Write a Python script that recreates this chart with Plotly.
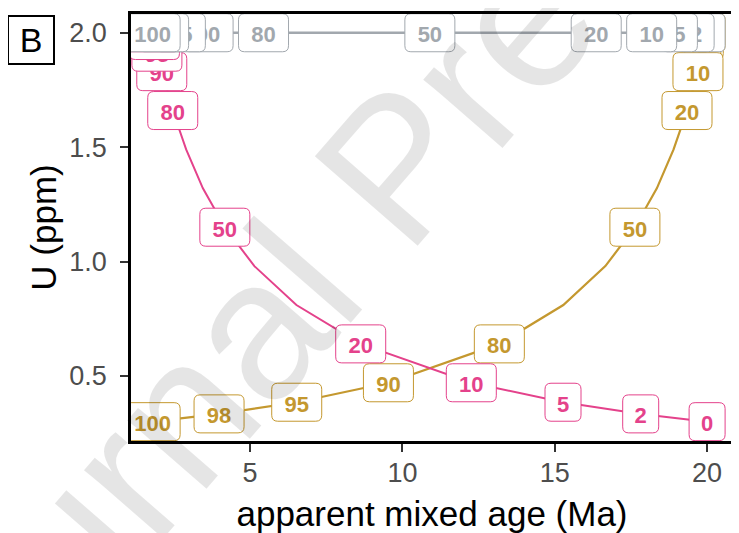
import plotly.graph_objects as go

# percent of the young end member in each mixture
fractions = [0, 2, 5, 10, 20, 30, 40, 50, 60, 70, 80, 90, 95, 98, 100]
labelled = [0, 2, 5, 10, 20, 50, 80, 90, 95, 98, 100]

# young grain rich in U, old grain poor in U
pink_age = [20.0, 17.82, 15.27, 12.26, 8.63, 6.52, 5.14, 4.17, 3.45, 2.90, 2.46, 2.10, 1.94, 1.86, 1.80]
pink_u = [0.30, 0.334, 0.385, 0.47, 0.64, 0.81, 0.98, 1.15, 1.32, 1.49, 1.66, 1.83, 1.915, 1.966, 2.0]

# young grain poor in U, old grain rich in U
gold_age = [20.0, 19.94, 19.86, 19.70, 19.34, 18.90, 18.35, 17.63, 16.66, 15.28, 13.18, 9.54, 6.53, 3.98, 1.80]
gold_u = [2.0, 1.966, 1.915, 1.83, 1.66, 1.49, 1.32, 1.15, 0.98, 0.81, 0.64, 0.47, 0.385, 0.334, 0.30]

# same U in both
gray_age = [20.0, 19.64, 19.09, 18.18, 16.36, 14.54, 12.72, 10.90, 9.08, 7.26, 5.44, 3.62, 2.71, 2.16, 1.80]
gray_u = [2.0, 2.0, 2.0, 2.0, 2.0, 2.0, 2.0, 2.0, 2.0, 2.0, 2.0, 2.0, 2.0, 2.0, 2.0]

x_ticks = [5, 10, 15, 20]
y_ticks = [0.5, 1.0, 1.5, 2.0]

PINK = '#E4428B'
GOLD = '#C4982F'
GRAY = '#A2A8AE'

series = [
    (gold_age, gold_u, GOLD, 2.2),
    (pink_age, pink_u, PINK, 2.0),
    (gray_age, gray_u, GRAY, 2.6),
]


def rounded_box(w, h, r):
    # rounded rectangle around (0, 0), in pixels
    return ('M %g,%g L %g,%g Q %g,%g %g,%g L %g,%g Q %g,%g %g,%g '
            'L %g,%g Q %g,%g %g,%g L %g,%g Q %g,%g %g,%g Z' % (
                -w + r, -h, w - r, -h, w, -h, w, -h + r,
                w, h - r, w, h, w - r, h,
                -w + r, h, -w, h, -w, h - r,
                -w, -h + r, -w, -h, -w + r, -h))


fig = go.Figure()
half_w = {1: 18, 2: 25, 3: 27.5}
for ages, us, col, lw in series:
    fig.add_trace(go.Scatter(x=ages, y=us, mode='lines', line=dict(color=col, width=lw),
                             hoverinfo='skip', showlegend=False))
    for f, a, u in zip(fractions, ages, us):
        if f not in labelled:
            continue
        txt = str(f)
        fig.add_shape(
            type='path', xref='x', yref='y', xsizemode='pixel', ysizemode='pixel',
            xanchor=a, yanchor=u, path=rounded_box(half_w[len(txt)], 19, 6),
            fillcolor='white', line=dict(color=col, width=1), layer='above',
            label=dict(text=txt, textposition='middle center',
                       font=dict(family='Liberation Sans, Arial', size=22, color=col, weight='bold')),
        )

annotations = [
    dict(text='Journal Pre-proof', xref='paper', yref='paper', x=0.440, y=0.642,
         xanchor='center', yanchor='middle', showarrow=False, textangle=-49,
         font=dict(family='Liberation Sans, Arial', size=198, color='rgba(0,0,0,0.1)')),
    # panel tag
    dict(text='B', xref='paper', yref='paper', x=-0.166, y=0.940, xanchor='center', yanchor='middle',
         showarrow=False, font=dict(family='Liberation Sans, Arial', size=34, color='black'),
         bordercolor='black', borderwidth=2, borderpad=5, width=34, height=36),
]

# the page body adds an 8px margin, so the figure is drawn 8px smaller
fig.update_layout(
    width=731, height=525,
    margin=dict(l=123, r=6, t=3, b=89),
    plot_bgcolor='white', paper_bgcolor='white',
    font=dict(family='Liberation Sans, Arial', color='black'),
    annotations=annotations,
)
fig.update_xaxes(
    range=[1.09, 20.85], tickvals=x_ticks, ticks='outside', ticklen=8, tickwidth=2,
    tickcolor='#333333', showgrid=False, zeroline=False,
    showline=True, mirror=True, linecolor='black', linewidth=2.5,
    tickfont=dict(size=27, color='#4D4D4D'), ticklabelstandoff=-2,
    title=dict(text='apparent mixed age (Ma)', font=dict(size=35, color='black'), standoff=17),
)
fig.update_yaxes(
    range=[0.2155, 2.082], tickvals=y_ticks, tickformat='.1f', ticks='outside', ticklen=8,
    tickwidth=2, tickcolor='#333333', showgrid=False, zeroline=False,
    showline=True, mirror=True, linecolor='black', linewidth=2.5,
    tickfont=dict(size=27, color='#4D4D4D'), ticklabelstandoff=8,
    title=dict(text='U (ppm)', font=dict(size=35, color='black'), standoff=3),
)

fig.write_html("out.html")
